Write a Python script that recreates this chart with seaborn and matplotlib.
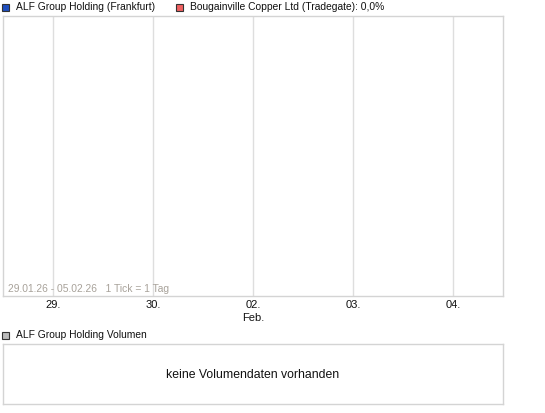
import matplotlib
matplotlib.use("Agg")
import matplotlib.pyplot as plt
from matplotlib.patches import Rectangle
import seaborn as sns
import pandas as pd

# trading days shown on the x axis
dates = ["29.01.26", "30.01.26", "02.02.26", "03.02.26", "04.02.26"]
range_end = "05.02.26"
tick_labels = ["29.", "30.", "02.", "03.", "04."]
month_labels = ["", "", "Feb.", "", ""]

# no price / volume data available in the reference
alf_prices = []
bougainville_prices = []
volumes = []

legend_names = ["ALF Group Holding (Frankfurt)", "Bougainville Copper Ltd (Tradegate): 0,0%"]
legend_colors = ["#1f4fbf", "#f06060"]
volume_name = "ALF Group Holding Volumen"

W, H = 545, 413
BORDER = "#d4d4d4"
GRID = "#dedede"

sns.set_style("white")
plt.rcParams["font.family"] = ["Liberation Sans", "DejaVu Sans"]

fig = plt.figure(figsize=(W / 100, H / 100), dpi=100)


def px_axes(x0, y0, x1, y1):
    return fig.add_axes([x0 / W, 1 - y1 / H, (x1 - x0) / W, (y1 - y0) / H])


def legend_box(x, y, color):
    # small framed square, x/y = top-left in pixels
    fig.add_artist(Rectangle((x / W, 1 - (y + 7) / H), 7 / W, 7 / H, transform=fig.transFigure,
                             facecolor=color, edgecolor="#333333", linewidth=0.8))


# main price panel
ax = px_axes(3, 16, 503, 296)
df = pd.DataFrame({"idx": list(range(len(alf_prices))), "price": alf_prices})
sns.lineplot(data=df, x="idx", y="price", ax=ax, color=legend_colors[0])
ax.set_xlim(-0.5, len(dates) - 0.5)
ax.set_ylim(0, 1)
ax.set_xticks(range(len(dates)))
ax.set_xticklabels([t if not m else t + "\n" + m for t, m in zip(tick_labels, month_labels)],
                   fontsize=8, color="#111111", linespacing=1.3)
ax.set_yticks([])
ax.tick_params(axis="x", length=0, pad=3)
ax.grid(axis="x", color=GRID, linewidth=1)
ax.set_xlabel("")
ax.set_ylabel("")
for s in ax.spines.values():
    s.set_color(BORDER)
    s.set_linewidth(1)
ax.text(5 / 500, 2 / 280, f"{dates[0]} - {range_end}   1 Tick = 1 Tag", transform=ax.transAxes,
        fontsize=7.4, color="#a8a29a", va="bottom", ha="left")

# legend row at the top
for name, col, mx, x in zip(legend_names, legend_colors, [2, 176], [16, 190]):
    legend_box(mx, 3.5, col)
    fig.text(x / W, 1 - 7.5 / H, name, fontsize=7.4, color="#111111", ha="left", va="center")

# volume panel
vx = px_axes(3, 344, 503, 404)
vx.set_xlim(0, 1)
vx.set_ylim(0, 1)
vx.set_xticks([])
vx.set_yticks([])
for s in vx.spines.values():
    s.set_color(BORDER)
    s.set_linewidth(1)
if not volumes:
    vx.text(0.5, 0.48, "keine Volumendaten vorhanden", transform=vx.transAxes,
            ha="center", va="center", fontsize=8.8, color="#111111")

legend_box(2, 331.5, "#bbbbbb")
fig.text(16 / W, 1 - 335 / H, volume_name, fontsize=7.4, color="#111111", ha="left", va="center")

fig.savefig("out.png", dpi=100, facecolor="white")
